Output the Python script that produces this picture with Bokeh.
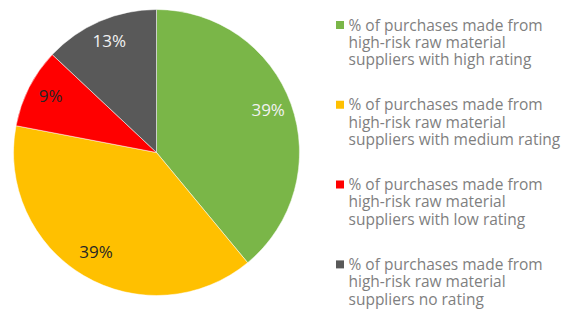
import math
from bokeh.plotting import figure
from bokeh.models import Range1d, ColumnDataSource
from bokeh.core.properties import value
from bokeh.embed import file_html
from bokeh.resources import INLINE

# ---- data ----
categories = [
    "% of purchases made from\nhigh-risk raw material\nsuppliers with high rating",
    "% of purchases made from\nhigh-risk raw material\nsuppliers with medium rating",
    "% of purchases made from\nhigh-risk raw material\nsuppliers with low rating",
    "% of purchases made from\nhigh-risk raw material\nsuppliers no rating",
]
values = [39, 39, 9, 13]
colors = ["#7ab648", "#ffc000", "#ff0000", "#595959"]
label_colors = ["#f2f2f2", "#262626", "#262626", "#f2f2f2"]

W, H = 576, 311
FONT = "Open Sans"
p = figure(width=W, height=H, output_backend="svg", toolbar_location=None,
           x_range=Range1d(0, W), y_range=Range1d(0, H), min_border=0)
p.axis.visible = False
p.grid.visible = False
p.outline_line_color = None
p.background_fill_color = "white"
p.border_fill_color = "white"

cx, cy, R = 156, 159, 143
total = sum(values)
starts, ends, lx, ly, ltxt = [], [], [], [], []
a = math.pi / 2
for v in values:
    span = 2 * math.pi * v / total
    starts.append(a - span)
    ends.append(a)
    mid = a - span / 2
    lx.append(cx + 0.83 * R * math.cos(mid))
    ly.append(cy + 0.83 * R * math.sin(mid) + 3)
    ltxt.append(f"{round(100 * v / total)}%")
    a -= span

src = ColumnDataSource(dict(start=starts, end=ends, color=colors))
p.wedge(x=cx, y=cy, radius=R, start_angle="start", end_angle="end",
        fill_color="color", line_color="white", line_width=0.5, source=src)

p.text(x=lx, y=ly, text=ltxt, text_color=label_colors, text_font=value(FONT),
       text_font_size="17px", text_align="center", text_baseline="middle")

# legend (manual)
sq_x, txt_x, top_base, line_h, block_h = 339.5, 348, 287, 17.3, 79.8
tx, ty, tt = [], [], []
sqx, sqy = [], []
for i, lab in enumerate(categories):
    base = top_base - i * block_h
    sqx.append(sq_x)
    sqy.append(311 - 24.5 - i * block_h)
    for j, line in enumerate(lab.split("\n")):
        tx.append(txt_x)
        ty.append(base - j * line_h)
        tt.append(line)
p.rect(x=sqx, y=sqy, width=8, height=8, fill_color=colors, line_color=None)
p.text(x=tx, y=ty, text=tt, text_color="#7f7f7f", text_font=value(FONT),
       text_font_size="15.5px", text_align="left", text_baseline="alphabetic")

open("out.html", "w").write(file_html(p, INLINE))
